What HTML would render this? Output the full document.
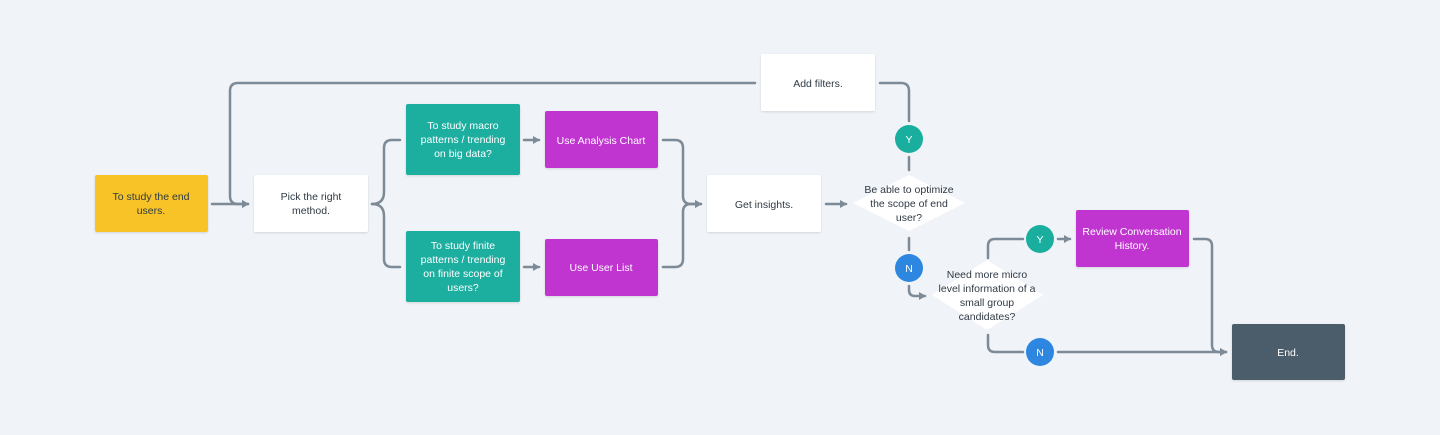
<!DOCTYPE html>
<html><head><meta charset="utf-8"><style>
html,body{margin:0;padding:0;background:#f0f3f7;}
svg{display:block;}
text{font-family:"Liberation Sans",sans-serif;font-size:10.5px;text-anchor:middle;}
</style></head><body>
<svg width="1440" height="435" viewBox="0 0 1440 435" xmlns="http://www.w3.org/2000/svg">
<defs>
<marker id="a" markerWidth="8" markerHeight="8" refX="6" refY="4" orient="auto" markerUnits="userSpaceOnUse"><path d="M0,0 L7,4 L0,8 z" fill="#7d8a97"/></marker>
<filter id="s" x="-10%" y="-10%" width="120%" height="130%"><feDropShadow dx="0" dy="1" stdDeviation="1" flood-color="#000" flood-opacity="0.12"/></filter>
</defs>
<g fill="none" stroke="#7d8a97" stroke-width="2.5" stroke-linecap="round">
<path d="M212 204 H248" marker-end="url(#a)"/>
<path d="M755 83 H238 Q230 83 230 91 V196 Q230 204 238 204 H248" marker-end="url(#a)"/>
<path d="M372 204 Q384 204 384 192 V148 Q384 140 392 140 H400"/>
<path d="M372 204 Q384 204 384 216 V259 Q384 267 392 267 H400"/>
<path d="M524 140 H539" marker-end="url(#a)"/>
<path d="M524 267 H539" marker-end="url(#a)"/>
<path d="M663 140 H675 Q683 140 683 148 V196 Q683 204 691 204 H701" marker-end="url(#a)"/>
<path d="M663 267 H675 Q683 267 683 259 V212 Q683 204 691 204 H701" marker-end="url(#a)"/>
<path d="M826 204 H846" marker-end="url(#a)"/>
<path d="M880 83 H901 Q909 83 909 91 V121"/>
<path d="M909 157 V170"/>
<path d="M909 238 V250"/>
<path d="M909 286 V290 Q909 296 915 296 H925" marker-end="url(#a)"/>
<path d="M988 258 V246 Q988 239 995 239 H1023"/>
<path d="M1058 239 H1070" marker-end="url(#a)"/>
<path d="M988 335 V345 Q988 352 995 352 H1023"/>
<path d="M1058 352 H1226" marker-end="url(#a)"/>
<path d="M1194 239 H1205 Q1212 239 1212 246 V345 Q1212 352 1219 352 H1226" marker-end="url(#a)"/>
</g>
<g filter="url(#s)">
<rect x="95" y="175" width="113" height="57" rx="2" fill="#f7c325"/>
<rect x="254" y="175" width="114" height="57" rx="2" fill="#ffffff"/>
<rect x="406" y="104" width="114" height="71" rx="2" fill="#1aae9f"/>
<rect x="545" y="111" width="113" height="57" rx="2" fill="#c036d0"/>
<rect x="406" y="231" width="114" height="71" rx="2" fill="#1aae9f"/>
<rect x="545" y="239" width="113" height="57" rx="2" fill="#c036d0"/>
<rect x="707" y="175" width="114" height="57" rx="2" fill="#ffffff"/>
<rect x="761" y="54" width="114" height="57" rx="2" fill="#ffffff"/>
<rect x="1076" y="210" width="113" height="57" rx="2" fill="#c036d0"/>
<rect x="1232" y="324" width="113" height="56" rx="2" fill="#4b5c6b"/>
</g>
<path d="M909 175 L965 203 L909 231 L853 203 z" fill="#fff"/>
<path d="M987 260 L1043 295 L987 330 L932 295 z" fill="#fff"/>
<circle cx="909" cy="139" r="14" fill="#1aae9f"/>
<circle cx="909" cy="268" r="14" fill="#2d87e0"/>
<circle cx="1040" cy="239" r="14" fill="#1aae9f"/>
<circle cx="1040" cy="352" r="14" fill="#2d87e0"/>
<g fill="#2f3a45">
<text x="151" y="200">To study the end</text><text x="151" y="214">users.</text>
<text x="311" y="200">Pick the right</text><text x="311" y="214">method.</text>
<text x="764" y="208">Get insights.</text>
<text x="818" y="87">Add filters.</text>
<text x="909" y="193">Be able to optimize</text><text x="909" y="207">the scope of end</text><text x="909" y="221">user?</text>
<text x="987" y="278">Need more micro</text><text x="987" y="292">level information of a</text><text x="987" y="306">small group</text><text x="987" y="320">candidates?</text>
</g>
<g fill="#ffffff">
<text x="463" y="129">To study macro</text><text x="463" y="143">patterns / trending</text><text x="463" y="157">on big data?</text>
<text x="601" y="144">Use Analysis Chart</text>
<text x="463" y="249">To study finite</text><text x="463" y="263">patterns / trending</text><text x="463" y="277">on finite scope of</text><text x="463" y="291">users?</text>
<text x="601" y="271">Use User List</text>
<text x="1132" y="235">Review Conversation</text><text x="1132" y="249">History.</text>
<text x="1288" y="356">End.</text>
<text x="909" y="143">Y</text><text x="909" y="272">N</text><text x="1040" y="243">Y</text><text x="1040" y="356">N</text>
</g>
</svg>
</body></html>
